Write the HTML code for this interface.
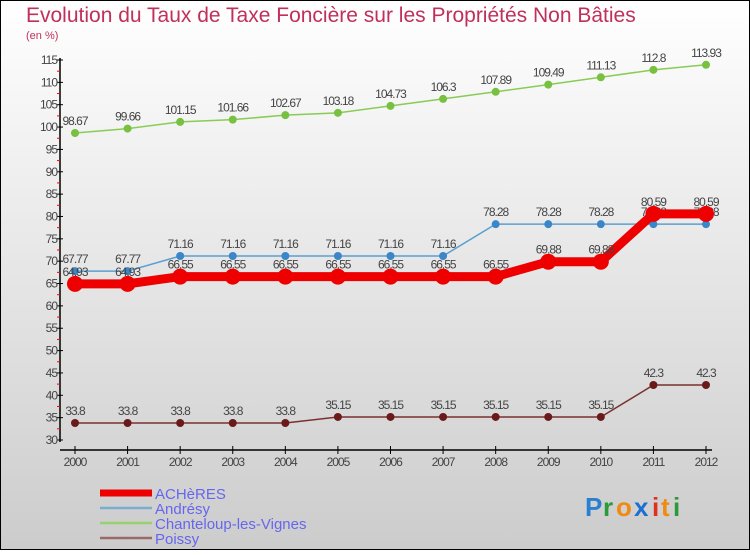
<!DOCTYPE html>
<html><head><meta charset="utf-8"><style>
html,body{margin:0;padding:0}
body{width:750px;height:550px;overflow:hidden;font-family:"Liberation Sans",sans-serif}
</style></head><body>
<svg id="chart" width="750" height="550" xmlns="http://www.w3.org/2000/svg">
<defs><linearGradient id="bg" x1="0" y1="0" x2="0" y2="1"><stop offset="0" stop-color="#ffffff"/><stop offset="1" stop-color="#cccccc"/></linearGradient></defs>
<rect x="0.5" y="0.5" width="749" height="549" fill="url(#bg)" stroke="#000"/>
<text x="26" y="22" font-size="21" fill="#c0305a">Evolution du Taux de Taxe Foncière sur les Propriétés Non Bâties</text>
<text x="26" y="39" font-size="11" fill="#c0305a">(en %)</text>
<g id="axes"></g>
<g id="series"></g>
<g id="legend"></g>
<g font-size="26" font-weight="bold">
<text x="585" y="516" fill="#2a7fd0">P</text><text x="603" y="516" fill="#2a9a3a">r</text><text x="616" y="516" fill="#f08a10">o</text><text x="634" y="516" fill="#1a6fd0">x</text><text x="652" y="516" fill="#e03020">i</text><text x="661" y="516" fill="#f08a10">t</text><text x="673" y="516" fill="#2a9a3a">i</text>
</g>
</svg>
<script>
const years = [2000,2001,2002,2003,2004,2005,2006,2007,2008,2009,2010,2011,2012];
const seriesNames = ["ACHèRES","Andrésy","Chanteloup-les-Vignes","Poissy"];
const acheres = [64.93,64.93,66.55,66.55,66.55,66.55,66.55,66.55,66.55,69.88,69.88,80.59,80.59];
const andresy = [67.77,67.77,71.16,71.16,71.16,71.16,71.16,71.16,78.28,78.28,78.28,78.28,78.28];
const chanteloup = [98.67,99.66,101.15,101.66,102.67,103.18,104.73,106.3,107.89,109.49,111.13,112.8,113.93];
const poissy = [33.8,33.8,33.8,33.8,33.8,35.15,35.15,35.15,35.15,35.15,35.15,42.3,42.3];
const yTicks = [30,35,40,45,50,55,60,65,70,75,80,85,90,95,100,105,110,115];
const NS="http://www.w3.org/2000/svg";
const X = i => 75 + i*(706-75)/12;
const Y = v => 440 - (v-30)*(380/85);
function mk(tag, attrs, parent, text){const e=document.createElementNS(NS,tag);for(const k in attrs)e.setAttribute(k,attrs[k]);if(text!==undefined)e.textContent=text;parent.appendChild(e);return e;}
const axes=document.getElementById('axes');
let e=mk('line',{x1:60,y1:58,x2:60,y2:442,stroke:'#000','stroke-width':1.5},axes);


e=mk('line',{x1:60,y1:450,x2:712,y2:450,stroke:'#000','stroke-width':1.5},axes);


yTicks.forEach((v,i)=>{
  mk('line',{x1:57,y1:Y(v),x2:63,y2:Y(v),stroke:'#000'},axes);
  if(i<yTicks.length-1) mk('line',{x1:57,y1:Y(v+2.5),x2:60,y2:Y(v+2.5),stroke:'#f00'},axes);
  const t=mk('text',{x:57,y:Y(v)+4,'text-anchor':'end','font-size':12,fill:'#444','letter-spacing':'-1'},axes,String(v));
  
  
});
years.forEach((yr,i)=>{
  mk('line',{x1:X(i),y1:446,x2:X(i),y2:454,stroke:'#000'},axes);
  const t=mk('text',{x:X(i),y:466,'text-anchor':'middle','font-size':12,fill:'#444','letter-spacing':'-1'},axes,String(yr));
  
  
});
const sg=document.getElementById('series');
const defs=[
 {d:chanteloup,c:'#88cc55',w:1.5,r:4,f:'#77c040',n:'chanteloup'},
 {d:andresy,c:'#5a9fd0',w:1.5,r:4,f:'#3a86c8',n:'andresy'},
 {d:poissy,c:'#7a3030',w:1.5,r:4,f:'#6a1a1a',n:'poissy'},
 {d:acheres,c:'#ee0000',w:9,r:8,f:'#ee0000',n:'acheres'}
];
defs.forEach(s=>{
  const g=mk('g',{},sg);
  
  
  const p=mk('polyline',{points:s.d.map((v,i)=>X(i)+','+Y(v)).join(' '),fill:'none',stroke:s.c,'stroke-width':s.w},g);
  
  
  s.d.forEach((v,i)=>{
    const c=mk('circle',{cx:X(i),cy:Y(v),r:s.r,fill:s.f},g);
    
    
    const t=mk('text',{x:X(i),y:Y(v)-8,'text-anchor':'middle','font-size':12,fill:'#444','letter-spacing':'-1'},g,String(v));
    
    
  });
});
const lg=document.getElementById('legend');
const lc=['#ee0000','#7aaed0','#99d070','#9a6a6a'];const lw=[7,2.5,2.5,2.5];
seriesNames.forEach((n,i)=>{
  const y=493+i*15;
  const l=mk('line',{x1:100,y1:y,x2:152,y2:y,stroke:lc[i],'stroke-width':lw[i]},lg);
  
  
  const t=mk('text',{x:155,y:y+6,'font-size':15,fill:'#6666ee'},lg,n);
  
  
});
</script>
</body></html>
